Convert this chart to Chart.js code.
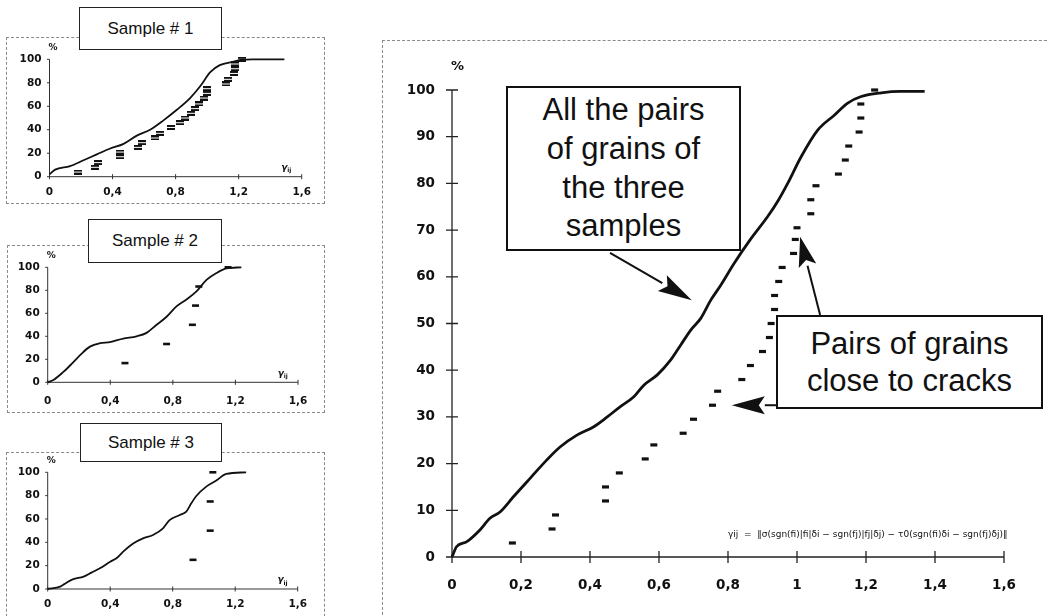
<!DOCTYPE html>
<html>
<head>
<meta charset="utf-8">
<script src="https://cdn.jsdelivr.net/npm/chart.js@4.4.1/dist/chart.umd.min.js"></script>
<style>
  body { margin: 0; width: 1048px; height: 616px; position: relative; overflow: hidden; background: #fff;
         font-family: "Liberation Sans", Arial, sans-serif; color: #111; }
  .frame { position: absolute; border: 1px dashed #8a8a8a; box-sizing: border-box; }
  canvas { position: absolute; }
  .title { position: absolute; background: #fff; border: 1.5px solid #222; box-sizing: border-box;
           display: flex; align-items: center; justify-content: center; font-size: 17px; z-index: 2; }
  .note { position: absolute; background: #fff; border: 2px solid #111; box-sizing: border-box;
          display: flex; align-items: center; justify-content: center; text-align: center; z-index: 2; }
</style>
</head>
<body>

<!-- cadres pointillés -->
<div class="frame" style="left:6px;top:37px;width:319px;height:167px"></div>
<div class="frame" style="left:7px;top:245px;width:318px;height:168px"></div>
<div class="frame" style="left:6px;top:452px;width:319px;height:180px"></div>
<div class="frame" style="left:382px;top:40px;width:700px;height:600px"></div>

<canvas id="s1" width="319" height="167" style="left:6px;top:37px"></canvas>
<canvas id="s2" width="318" height="168" style="left:7px;top:245px"></canvas>
<canvas id="s3" width="319" height="164" style="left:6px;top:452px"></canvas>
<canvas id="main" width="667" height="576" style="left:381px;top:40px"></canvas>

<div class="title" style="left:79px;top:7px;width:143px;height:43px">Sample # 1</div>
<div class="title" style="left:88px;top:219px;width:134px;height:44px">Sample # 2</div>
<div class="title" style="left:80px;top:423px;width:142px;height:39px">Sample # 3</div>

<div class="note" style="left:506px;top:86px;width:235px;height:165px;font-size:31px;line-height:38.7px">
  All the pairs<br>of grains of<br>the three<br>samples</div>
<div class="note" style="left:776px;top:315px;width:267px;height:94px;font-size:31px;line-height:37px">
  Pairs of grains<br>close to cracks</div>

<script>
// Graduations
const mainXTicks = [0, 0.2, 0.4, 0.6, 0.8, 1, 1.2, 1.4, 1.6];
const mainYTicks = [0, 10, 20, 30, 40, 50, 60, 70, 80, 90, 100];
const smallXTicks = [0, 0.4, 0.8, 1.2, 1.6];
const smallYTicks = [0, 20, 40, 60, 80, 100];

// Toutes les paires (3 échantillons) - courbe cumulée
const allX = [0, 0.013, 0.043, 0.081, 0.11, 0.14, 0.178, 0.227, 0.275, 0.314, 0.362, 0.411, 0.45, 0.488,
  0.527, 0.556, 0.595, 0.634, 0.663, 0.692, 0.721, 0.75, 0.779, 0.818, 0.864, 0.915, 0.946, 0.973,
  1.012, 1.06, 1.108, 1.147, 1.186, 1.244, 1.3, 1.37];
const allY = [0, 2.2, 3.3, 5.8, 8.3, 9.7, 12.9, 16.9, 20.8, 23.6, 26.1, 27.9, 30, 32.2,
  34.3, 36.8, 39, 42.2, 45.4, 48.6, 51.1, 55, 58.2, 62.9, 67.9, 72.9, 76.4, 80,
  85.7, 91.4, 94.6, 97.2, 98.6, 99.4, 99.7, 99.7];

// Paires proches des fissures
const crackX = [0.175, 0.29, 0.30, 0.445, 0.445, 0.485, 0.56, 0.585, 0.67, 0.70, 0.755, 0.77, 0.84,
  0.865, 0.90, 0.92, 0.925, 0.935, 0.935, 0.947, 0.957, 0.99, 0.995, 1.0, 1.04, 1.04, 1.055, 1.12,
  1.14, 1.15, 1.18, 1.185, 1.185, 1.225];
const crackY = [3, 6, 9, 12, 15, 18, 21, 24, 26.5, 29.5, 32.5, 35.5, 38, 41, 44, 47, 50, 53, 56, 59,
  62, 65, 68, 70.5, 73.5, 76.5, 79.5, 82, 85, 88, 91, 94, 97, 100];

// Echantillon 1
const s1X = [0, 0.036, 0.13, 0.216, 0.30, 0.385, 0.47, 0.554, 0.638, 0.723, 0.808, 0.892, 0.956,
  1.02, 1.08, 1.167, 1.21, 1.29, 1.49];
const s1Y = [2, 6, 9, 14, 19, 24, 28, 35, 40, 48, 57, 67, 77, 89, 95, 98, 99.4, 100, 100];
const s1CrackX = [0.18, 0.29, 0.31, 0.45, 0.45, 0.56, 0.59, 0.67, 0.70, 0.77, 0.83, 0.86, 0.90, 0.92,
  0.95, 0.98, 1.0, 1.0, 1.12, 1.13, 1.17, 1.18, 1.18, 1.22];
const s1CrackY = [4, 8, 12, 17, 21, 25, 29, 33, 37, 42, 46, 50, 54, 58, 62, 67, 71, 75, 79, 83, 88,
  92, 96, 100];

// Echantillon 2
const s2X = [0, 0.036, 0.10, 0.153, 0.217, 0.27, 0.334, 0.398, 0.483, 0.568, 0.632, 0.696, 0.76,
  0.823, 0.887, 0.951, 1.015, 1.079, 1.143, 1.238];
const s2Y = [0, 2, 9, 16, 25, 31, 34, 35, 38, 40, 43, 50, 57, 66, 72, 79, 89, 95, 99, 100];
const s2CrackX = [0.494, 0.76, 0.925, 0.945, 0.966, 1.153];
const s2CrackY = [16.7, 33.3, 50, 66.7, 83.3, 100];

// Echantillon 3
const s3X = [0, 0.08, 0.12, 0.16, 0.23, 0.28, 0.334, 0.40, 0.44, 0.483, 0.547, 0.61, 0.674, 0.738,
  0.78, 0.845, 0.887, 0.919, 0.951, 1.015, 1.079, 1.143, 1.27];
const s3Y = [0, 2, 5.4, 8.3, 10.6, 14, 17.7, 23.4, 26.3, 32, 39, 43.4, 46.3, 52, 59, 63.4, 66.3,
  73.4, 79.7, 87.7, 92.9, 98.6, 100];
const s3CrackX = [0.93, 1.04, 1.04, 1.057];
const s3CrackY = [25, 50, 75, 100];

const pts = (xs, ys) => xs.map((x, i) => ({ x, y: ys[i] }));
const comma = v => String(v).replace('.', ',');

// tiret double (échantillon 1)
const dbl = document.createElement('canvas');
dbl.width = 8; dbl.height = 5;
const dctx = dbl.getContext('2d');
dctx.fillStyle = '#111';
dctx.fillRect(0, 0, 8, 2);
dctx.fillRect(0, 3, 8, 2);

// Axes qui se croisent + textes "%" et gamma
const crossAxes = {
  id: 'crossAxes',
  beforeDatasetsDraw(chart, args, o) {
    const { ctx, chartArea: a, scales: { x, y } } = chart;
    ctx.save();
    ctx.strokeStyle = o.color;
    ctx.lineWidth = o.width;
    ctx.beginPath();
    ctx.moveTo(a.left, a.bottom); ctx.lineTo(a.right, a.bottom);
    ctx.moveTo(a.left, a.bottom); ctx.lineTo(a.left, a.top);
    x.ticks.forEach(t => {
      const px = x.getPixelForValue(t.value);
      ctx.moveTo(px, a.bottom - o.tick); ctx.lineTo(px, a.bottom + o.tick);
    });
    y.ticks.forEach(t => {
      const py = y.getPixelForValue(t.value);
      ctx.moveTo(a.left - o.tick, py); ctx.lineTo(a.left + o.yIn, py);
    });
    ctx.stroke();

    ctx.fillStyle = '#111';
    ctx.font = 'bold ' + o.pct + 'px "DejaVu Sans"';
    ctx.textAlign = 'left';
    ctx.textBaseline = 'middle';
    ctx.fillText('%', a.left - 1, a.top - o.pctGap);

    if (o.gamma) {
      const gx = x.getPixelForValue(1.47);
      const gy = a.bottom - 9;
      ctx.font = 'bold italic 9px "DejaVu Sans"';
      ctx.fillText('γ', gx, gy);
      ctx.font = 'bold 6px "DejaVu Sans"';
      ctx.fillText('ij', gx + 6, gy + 3);
    }
    if (o.formula) {
      ctx.font = '9px "DejaVu Sans"';
      ctx.textBaseline = 'middle';
      const fx = x.getPixelForValue(0.8);
      ctx.fillText('γij  =  ‖σ(sgn(fi)|fi|δi − sgn(fj)|fj|δj) − τ0(sgn(fi)δi − sgn(fj)δj)‖',
        fx, y.getPixelForValue(4.7), x.getPixelForValue(1.61) - fx);
    }
    ctx.restore();
  }
};

// Flèches des annotations (pointes en coordonnées des données)
const arrows = {
  id: 'arrows',
  afterDatasetsDraw(chart, args, o) {
    const { ctx, scales: { x, y } } = chart;
    ctx.save();
    ctx.strokeStyle = '#111';
    ctx.fillStyle = '#111';
    o.list.forEach(ar => {
      const x0 = x.getPixelForValue(ar.from[0]), y0 = y.getPixelForValue(ar.from[1]);
      const x1 = x.getPixelForValue(ar.to[0]), y1 = y.getPixelForValue(ar.to[1]);
      const ang = Math.atan2(y1 - y0, x1 - x0);
      const len = ar.head, half = ar.half;
      const bx = x1 - Math.cos(ang) * len, by = y1 - Math.sin(ang) * len;
      ctx.lineWidth = 2;
      ctx.beginPath();
      ctx.moveTo(x0, y0); ctx.lineTo(bx, by);
      ctx.stroke();
      ctx.beginPath();
      ctx.moveTo(x1, y1);
      ctx.lineTo(bx + Math.sin(ang) * half, by - Math.cos(ang) * half);
      ctx.lineTo(bx + Math.cos(ang) * 6, by + Math.sin(ang) * 6);
      ctx.lineTo(bx - Math.sin(ang) * half, by + Math.cos(ang) * half);
      ctx.closePath();
      ctx.fill();
    });
    ctx.restore();
  }
};

function makeChart(id, cfg) {
  const tickFont = { family: 'DejaVu Sans', weight: 'bold', size: cfg.fontSize };
  return new Chart(document.getElementById(id), {
    type: 'scatter',
    data: {
      datasets: [
        {
          data: cfg.curve,
          showLine: true,
          pointRadius: 0,
          borderColor: '#111',
          borderWidth: cfg.lineWidth,
          cubicInterpolationMode: 'monotone',
          clip: false
        },
        {
          data: cfg.cracks,
          showLine: false,
          pointStyle: cfg.pointStyle || 'line',
          pointRadius: cfg.dash,
          borderWidth: cfg.dashWidth,
          borderColor: '#111',
          backgroundColor: '#111',
          clip: false
        }
      ]
    },
    options: {
      responsive: false,
      animation: false,
      events: [],
      layout: { padding: cfg.padding },
      scales: {
        x: {
          type: 'linear',
          min: 0,
          max: 1.6,
          afterBuildTicks: s => { s.ticks = cfg.xTicks.map(v => ({ value: v })); },
          afterFit: s => { s.height = cfg.xHeight; },
          grid: { display: false, drawTicks: false },
          border: { display: false },
          ticks: { font: tickFont, color: '#111', padding: cfg.xPad, maxRotation: 0, callback: comma }
        },
        y: {
          min: 0,
          max: 100,
          afterBuildTicks: s => { s.ticks = cfg.yTicks.map(v => ({ value: v })); },
          afterFit: s => { s.width = cfg.yWidth; },
          grid: { display: false, drawTicks: false },
          border: { display: false },
          ticks: { font: tickFont, color: '#111', padding: cfg.yPad }
        }
      },
      plugins: {
        legend: { display: false },
        tooltip: { enabled: false },
        crossAxes: cfg.axes,
        arrows: { list: cfg.arrows || [] }
      }
    },
    plugins: [crossAxes, arrows]
  });
}

const smallAxes = { color: '#333', width: 1, tick: 2.5, yIn: 0, pct: 9, pctGap: 12, gamma: true };

makeChart('s1', {
  curve: pts(s1X, s1Y), cracks: pts(s1CrackX, s1CrackY),
  pointStyle: dbl, dash: 4, dashWidth: 1, lineWidth: 1.8,
  xTicks: smallXTicks, yTicks: smallYTicks, fontSize: 10.5,
  padding: { left: 0, top: 22.3, right: 23.3, bottom: 1.3 },
  yWidth: 43.5, xHeight: 26, xPad: 9.5, yPad: 8,
  axes: smallAxes
});

makeChart('s2', {
  curve: pts(s2X, s2Y), cracks: pts(s2CrackX, s2CrackY),
  dash: 3.5, dashWidth: 2.6, lineWidth: 1.8,
  xTicks: smallXTicks, yTicks: smallYTicks, fontSize: 10.5,
  padding: { left: 0, top: 22.3, right: 27, bottom: 0.7 },
  yWidth: 40.7, xHeight: 30, xPad: 12.5, yPad: 8,
  axes: smallAxes
});

makeChart('s3', {
  curve: pts(s3X, s3Y), cracks: pts(s3CrackX, s3CrackY),
  dash: 3.5, dashWidth: 2.6, lineWidth: 1.8,
  xTicks: smallXTicks, yTicks: smallYTicks, fontSize: 10.5,
  padding: { left: 0, top: 20.3, right: 27.3, bottom: 1 },
  yWidth: 41.7, xHeight: 26, xPad: 9, yPad: 8,
  axes: smallAxes
});

makeChart('main', {
  curve: pts(allX, allY), cracks: pts(crackX, crackY),
  dash: 3.5, dashWidth: 3.2, lineWidth: 2.8,
  xTicks: mainXTicks, yTicks: mainYTicks, fontSize: 13.5,
  padding: { left: 0, top: 50, right: 44, bottom: 19 },
  yWidth: 71, xHeight: 40, xPad: 20.5, yPad: 17,
  axes: { color: '#222', width: 1.3, tick: 6, yIn: 6, pct: 13, pctGap: 23, formula: true },
  arrows: [
    { from: [0.458, 65.1], to: [0.695, 55], head: 34, half: 9 },
    { from: [0.939, 32.5], to: [0.811, 32.5], head: 33, half: 9 },
    { from: [1.067, 51.8], to: [1.009, 68.6], head: 30, half: 9 }
  ]
});
</script>
</body>
</html>
